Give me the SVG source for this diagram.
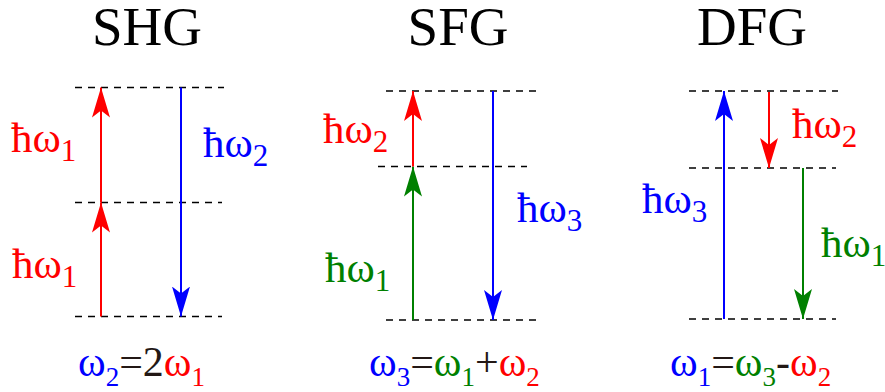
<svg xmlns="http://www.w3.org/2000/svg" width="885" height="392" viewBox="0 0 885 392">
<defs>
<style>
text{font-family:'Liberation Serif','Times New Roman',serif;}
.title{font-size:55px;fill:#000;}
.lab{font-size:43px;}
.lsub{font-size:31px;}
.eq{font-size:42px;}
.esub{font-size:27px;}
.dash{stroke:#000;stroke-width:1.7;stroke-dasharray:7 6;fill:none;}
.r{fill:#ff0000;} .b{fill:#0000ff;} .g{fill:#008000;} .k{fill:#231815;}
.ar{stroke:#ff0000;stroke-width:2;fill:none;}
.ab{stroke:#0000ff;stroke-width:2;fill:none;}
.ag{stroke:#008000;stroke-width:2;fill:none;}
</style>
<marker id="mr" viewBox="0 0 30 18" refX="30" refY="9" markerWidth="30" markerHeight="18" markerUnits="userSpaceOnUse" orient="auto"><path d="M0,0 L30,9 L0,18 L7,9 z" fill="#ff0000"/></marker>
<marker id="mb" viewBox="0 0 30 18" refX="30" refY="9" markerWidth="30" markerHeight="18" markerUnits="userSpaceOnUse" orient="auto"><path d="M0,0 L30,9 L0,18 L7,9 z" fill="#0000ff"/></marker>
<marker id="mg" viewBox="0 0 30 18" refX="30" refY="9" markerWidth="30" markerHeight="18" markerUnits="userSpaceOnUse" orient="auto"><path d="M0,0 L30,9 L0,18 L7,9 z" fill="#008000"/></marker>
</defs>
<rect width="885" height="392" fill="#fff"/>

<g id="levels">
<line class="dash" x1="75" y1="87.5" x2="224" y2="87.5"/>
<line class="dash" x1="75" y1="202.5" x2="222" y2="202.5"/>
<line class="dash" x1="75" y1="316.5" x2="222" y2="316.5"/>
<line class="dash" x1="386" y1="91" x2="537" y2="91"/>
<line class="dash" x1="378" y1="166.5" x2="527" y2="166.5"/>
<line class="dash" x1="386" y1="320" x2="536" y2="320"/>
<line class="dash" x1="689" y1="91" x2="838" y2="91"/>
<line class="dash" x1="689" y1="168" x2="836" y2="168"/>
<line class="dash" x1="689" y1="319" x2="836" y2="319"/>
</g>

<g id="connectors">
<path class="ar" d="M101,316.5 V202.5" marker-end="url(#mr)"/>
<path class="ar" d="M101,202.5 V87.5" marker-end="url(#mr)"/>
<path class="ab" d="M181,87.5 V316.5" marker-end="url(#mb)"/>
<path class="ag" d="M413,320 V166.5" marker-end="url(#mg)"/>
<path class="ar" d="M413,166.5 V91" marker-end="url(#mr)"/>
<path class="ab" d="M493,91 V320" marker-end="url(#mb)"/>
<path class="ab" d="M724,319 V91" marker-end="url(#mb)"/>
<path class="ar" d="M769,92 V168" marker-end="url(#mr)"/>
<path class="ag" d="M803,168 V319" marker-end="url(#mg)"/>
</g>

<g id="shg">
<text class="title" x="147" y="45" text-anchor="middle">SHG</text>
<text class="lab r" x="11" y="152">ħω<tspan class="lsub" dy="9">1</tspan></text>
<text class="lab r" x="12" y="278">ħω<tspan class="lsub" dy="9">1</tspan></text>
<text class="lab b" x="203" y="157">ħω<tspan class="lsub" dy="9">2</tspan></text>
<text class="eq" x="78" y="376"><tspan class="b">ω</tspan><tspan class="esub b" dy="10">2</tspan><tspan class="k" dy="-10">=2</tspan><tspan class="r">ω</tspan><tspan class="esub r" dy="10">1</tspan></text>
</g>

<g id="sfg">
<text class="title" x="458" y="45" text-anchor="middle">SFG</text>
<text class="lab r" x="323" y="143">ħω<tspan class="lsub" dy="9">2</tspan></text>
<text class="lab g" x="325" y="282">ħω<tspan class="lsub" dy="9">1</tspan></text>
<text class="lab b" x="517" y="222">ħω<tspan class="lsub" dy="9">3</tspan></text>
<text class="eq" x="369" y="376"><tspan class="b">ω</tspan><tspan class="esub b" dy="10">3</tspan><tspan class="k" dy="-10">=</tspan><tspan class="g">ω</tspan><tspan class="esub g" dy="10">1</tspan><tspan class="k" dy="-10">+</tspan><tspan class="r">ω</tspan><tspan class="esub r" dy="10">2</tspan></text>
</g>

<g id="dfg">
<text class="title" x="752" y="45" text-anchor="middle">DFG</text>
<text class="lab r" x="792" y="138">ħω<tspan class="lsub" dy="9">2</tspan></text>
<text class="lab b" x="642" y="213">ħω<tspan class="lsub" dy="9">3</tspan></text>
<text class="lab g" x="821" y="257">ħω<tspan class="lsub" dy="9">1</tspan></text>
<text class="eq" x="670" y="376"><tspan class="b">ω</tspan><tspan class="esub b" dy="10">1</tspan><tspan class="k" dy="-10">=</tspan><tspan class="g">ω</tspan><tspan class="esub g" dy="10">3</tspan><tspan class="k" dy="-10">-</tspan><tspan class="r">ω</tspan><tspan class="esub r" dy="10">2</tspan></text>
</g>
</svg>
